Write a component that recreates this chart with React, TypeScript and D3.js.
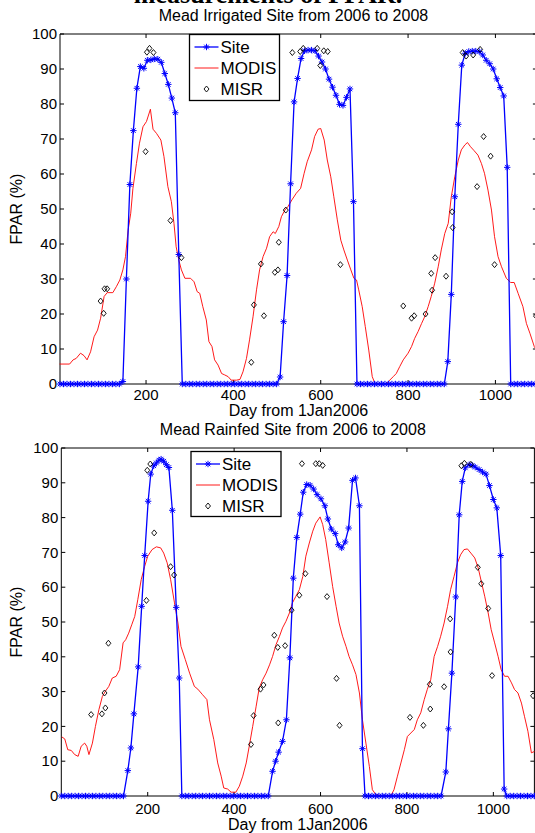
import React from "react";
import * as d3 from "d3";

// ---------- shared axis data ----------
const xTicks = [200, 400, 600, 800, 1000];
const yTicks = [0, 10, 20, 30, 40, 50, 60, 70, 80, 90, 100];
const legendLabels = ["Site", "MODIS", "MISR"];
const xLabel = "Day from 1Jan2006";
const yLabel = "FPAR (%)";
const captionText = "measurements of FPAR.";

// ---------- Irrigated site ----------
const irrTitle = "Mead Irrigated Site from 2006 to 2008";
const irrSiteDays = d3.range(3, 1092, 8);
const irrSiteVals = [
  0, 0, 0, 0, 0, 0, 0, 0, 0, 0, 0, 0, 0, 0, 0, 0, 0, 0,
  0.7, 30, 57, 72.4, 84.5, 90.7, 90.2, 92.5, 92.6, 92.9, 92.8, 91.9, 88.7, 85.6, 81.7, 77.5,
  37,
  0, 0, 0, 0, 0, 0, 0, 0, 0, 0, 0, 0, 0, 0, 0, 0, 0, 0, 0, 0, 0, 0, 0, 0, 0, 0, 0, 0,
  2, 17.8, 31, 57.2, 80.6, 87.3, 93, 95.2, 95.4, 95.4, 95.2, 93.7, 92, 90, 87.1, 84.8, 82.5, 79.9, 79.6, 81.9, 84.3, 52.1,
  0, 0, 0, 0, 0, 0, 0, 0, 0, 0, 0, 0, 0, 0, 0, 0, 0, 0, 0, 0, 0, 0, 0, 0, 0, 0,
  6.4, 25.6, 53.5, 74.2, 91.1, 94.5, 95, 95.1, 95.1, 95, 94, 92.5, 91.5, 90, 87.2, 84.7, 82.3, 61.9,
  0, 0, 0, 0, 0, 0, 0, 0,
];
const irrModisDays = [
  2, 25, 33, 40, 50, 58, 65, 73, 81, 89, 96, 104, 111, 124, 132, 140, 147, 153, 159, 165, 170, 178, 185, 193, 201, 210,
  216, 224, 234, 241, 250, 258, 264, 269, 275, 281, 289, 302, 310, 317, 323, 330, 338, 344, 351, 357, 365, 373, 380,
  388, 395, 407, 415, 422, 430, 437, 445, 453, 460, 468, 476, 483, 491, 496, 504, 510, 518, 525, 534, 544, 554, 562,
  569, 579, 586, 594, 600, 608, 615, 623, 630, 638, 646, 653, 661, 669, 676, 682, 687, 695, 702, 710, 718, 724, 739,
  750, 758, 766, 773, 781, 789, 800, 808, 815, 823, 831, 838, 846, 853, 861, 869, 876, 884, 892, 899, 907, 915, 922,
  930, 936, 943, 951, 960, 968, 975, 983, 991, 998, 1006, 1014, 1025, 1035, 1043, 1052, 1063, 1071, 1079, 1089, 1095,
];
const irrModisVals = [
  5.7, 5.7, 6.9, 7.3, 8.8, 8.1, 6.9, 9.2, 13.5, 15.4, 18.8, 25, 26.1, 26.1, 27.8, 29.7, 32.6, 36.4, 44, 48.8, 55.9, 63,
  68.8, 73.5, 75, 78.5, 72.8, 71.6, 69.7, 65, 56.4, 52.1, 45.9, 39.2, 35.4, 32.6, 30.2, 30.2, 29.2, 26.4, 25.9, 22.1,
  18.3, 12.1, 10.7, 6.9, 5.4, 3, 2.6, 2.1, 1.1, 1.1, 1.3, 3.5, 7.3, 12.6, 19.2, 26.9, 32.6, 36.4, 38.8, 42.1, 43.5, 43,
  45, 47.8, 49.7, 50.7, 52.6, 54.5, 55.9, 60.2, 63.5, 66.9, 70.7, 72.8, 73, 69.7, 64, 59.2, 53.5, 46.9, 41.1, 38.3,
  35.4, 32.6, 30.2, 29.7, 26.9, 22.1, 16.4, 9.7, 2.1, 0.2, 0, 0, 1.1, 2.1, 3, 5, 6.9, 8.8, 10.7, 13, 15, 17.3, 19.2,
  22.1, 25, 28.8, 33.5, 38.3, 43, 45.9, 53.5, 59.2, 64, 66.9, 68.3, 69, 67.8, 66.7, 65.4, 63, 60.2, 55.4, 49.7, 42.1,
  36.4, 33.5, 30.2, 29, 29, 25.9, 22.1, 17.3, 14.5, 10.7, 9.5,
];
const irrMisrDays = [
  96, 103, 105, 111, 199, 202, 208, 217, 256, 281, 441, 447, 463, 470, 495, 502, 504, 520, 535, 553, 560, 592, 599,
  607, 616, 645, 789, 808, 814, 840, 853, 855, 862, 887, 901, 902, 925, 933, 949, 958, 965, 973, 989, 998, 1093,
];
const irrMisrVals = [
  23.7, 20.2, 27.2, 27.2, 66.4, 94.8, 95.9, 94.7, 46.7, 36.1, 6.2, 22.6, 34.3, 19.5, 31.9, 32.6, 40.5, 49.7, 94.7, 95,
  95.9, 95.9, 91, 95.2, 95, 34.1, 22.3, 18.8, 19.5, 20, 31.6, 26.8, 36.1, 30.8, 49.2, 44.7, 94.7, 93.7, 94, 56.4, 95.6,
  70.7, 65.1, 34.1, 19.4,
];

// ---------- Rainfed site ----------
const rainTitle = "Mead Rainfed Site from 2006 to 2008";
const rainSiteDays = [
  0, 8, 16, 24, 32, 40, 48, 56, 64, 72, 80, 88, 96, 104, 112, 120, 128, 136, 144,
  154, 161, 168, 178, 186, 193, 201, 207, 214, 220, 226, 231, 237, 243, 249, 257, 266, 273, 279,
  287, 295, 303, 311, 319, 327, 335, 343, 351, 359, 367, 375, 383, 391, 399, 407, 415, 423, 431, 439, 447, 455, 463, 471, 479,
  489, 496, 503, 512, 521, 529, 537, 545, 553, 560, 568, 576, 584, 592, 601, 610, 617, 625, 634, 641, 649, 657, 665, 674, 681, 690, 697, 703,
  711, 719, 727, 735, 743, 751, 759, 767, 775, 783, 791, 799, 807, 815, 823, 831, 839, 847, 855, 863, 871, 879,
  890, 896, 904, 913, 921, 928, 935, 944, 951, 958, 967, 975, 983, 991, 1000, 1008, 1017, 1025, 1031,
  1039, 1047, 1055, 1063, 1071, 1079, 1087, 1095,
];
const rainSiteVals = [
  0, 0, 0, 0, 0, 0, 0, 0, 0, 0, 0, 0, 0, 0, 0, 0, 0, 0, 0,
  7.3, 13.8, 23.6, 37.1, 54.5, 69.1, 84.7, 92.5, 94.9, 95.7, 96.5, 96.8, 96.2, 95.2, 94.4, 82.1, 54.2, 33.9, 0,
  0, 0, 0, 0, 0, 0, 0, 0, 0, 0, 0, 0, 0, 0, 0, 0, 0, 0, 0, 0, 0, 0, 0, 0, 0,
  7.1, 10, 12.6, 15.7, 21.9, 39.7, 62.6, 74.3, 81, 87.3, 89.5, 89.3, 88.2, 86.6, 85.4, 83.4, 79.6, 76.7, 75.4, 72.2, 71.3, 73, 77, 90.7, 91.4, 83.4, 13.6, 0,
  0, 0, 0, 0, 0, 0, 0, 0, 0, 0, 0, 0, 0, 0, 0, 0, 0, 0, 0, 0, 0, 0,
  6.9, 19.3, 35.3, 57.2, 80.8, 90.4, 94.3, 95.2, 95, 94.5, 93.8, 93.1, 92.5, 89.2, 85.2, 82.8, 69.1, 2, 0,
  0, 0, 0, 0, 0, 0, 0, 0,
];
const rainModisDays = [
  1, 8, 15, 23, 31, 39, 46, 54, 59, 64, 72, 79, 87, 95, 102, 110, 118, 127, 135, 143, 149, 156, 163, 170, 177, 185,
  193, 200, 210, 220, 230, 237, 245, 253, 262, 270, 277, 287, 297, 308, 316, 327, 337, 343, 353, 362, 370, 376, 385,
  393, 404, 412, 420, 428, 435, 443, 451, 458, 466, 474, 482, 489, 497, 505, 512, 520, 528, 535, 543, 551, 559, 566,
  574, 582, 589, 599, 605, 612, 620, 628, 636, 643, 651, 659, 666, 674, 682, 690, 697, 705, 713, 720, 728, 740, 763,
  770, 778, 786, 794, 801, 809, 817, 824, 832, 840, 847, 855, 863, 871, 878, 886, 894, 901, 909, 917, 924, 932, 940,
  948, 957, 965, 972, 980, 988, 995, 1003, 1011, 1018, 1026, 1034, 1042, 1049, 1057, 1065, 1072, 1080, 1088, 1095,
];
const rainModisVals = [
  17, 16.4, 13.3, 13.1, 11.9, 11.4, 14.3, 15.2, 14.3, 11.9, 15.2, 20, 24.8, 28.6, 30.1, 31.5, 33.9, 34.4, 36.3, 44,
  44.9, 46.8, 49.2, 51.6, 56.4, 62.2, 66, 68.9, 70.8, 71.6, 71.3, 69.8, 67, 62.2, 55.5, 49.7, 43, 39.2, 35.3, 31.5,
  30.7, 29.1, 27.7, 21.9, 16.2, 9.5, 5.7, 2.3, 2, 1.1, 1.1, 2.8, 5.7, 9.5, 14.3, 20, 25.8, 31, 33.4, 35.3, 37.7, 40.1,
  43.5, 45.9, 48.3, 50.2, 52.6, 55.5, 57.4, 59.3, 63.1, 68.9, 72.7, 76.1, 78.4, 80.2, 78, 73.7, 67, 60.2, 54.5, 49.7,
  45.9, 43, 40.1, 37.7, 34.9, 29.6, 21.9, 15.2, 8.5, 1.8, 0.4, 0.1, 0.1, 1.8, 5.7, 9.5, 13.3, 17.1, 18.1, 19.1, 21.9,
  23.9, 27.7, 30.6, 33.4, 40.1, 43, 45.9, 49.7, 54.5, 59.3, 63.1, 67, 69.3, 70.8, 71, 69.8, 68.4, 65.5, 61.7, 57.4,
  52.6, 47.8, 44, 40.1, 36.3, 34.4, 34.4, 32.5, 30.6, 29.6, 26.7, 22.9, 18.6, 12.4, 12.8,
];
const rainMisrDays = [
  69, 94, 100, 102, 109, 197, 199, 206, 215, 253, 261, 439, 445, 461, 468, 493, 501, 502, 518, 533, 551, 557, 565,
  589, 597, 605, 615, 637, 644, 807, 838, 853, 854, 886, 900, 901, 926, 933, 948, 964, 972, 988, 997, 1092,
];
const rainMisrVals = [
  23.4, 23.6, 29.6, 25.3, 43.9, 56.2, 93.6, 95.4, 75.6, 65.9, 63.5, 14.8, 23.1, 30.7, 31.9, 46.2, 42.7, 21, 43.2, 53.4,
  57.7, 95.5, 63.9, 95.5, 95.5, 95, 57.3, 33.8, 20.3, 22.6, 20.3, 32.1, 25, 31.4, 50.9, 41.4, 94.9, 95.6, 95.3, 65.7,
  61, 53.9, 34.6, 28.8,
];

const FONT = "'Liberation Sans', Arial, Helvetica, sans-serif";
const STAR = "M-3.2,0H3.2M0,-3.2V3.2M-2.3,-2.3L2.3,2.3M-2.3,2.3L2.3,-2.3";
const DIAMOND = "M0,-3L2.5,0L0,3L-2.5,0Z";

type PanelProps = {
  title: string;
  siteDays: number[];
  siteVals: number[];
  modisDays: number[];
  modisVals: number[];
  misrDays: number[];
  misrVals: number[];
  xr: [number, number];
  xd: [number, number];
  yTop: number;
  yBot: number;
  titleY: number;
  tickLabelY: number;
  xLabelY: number;
  legend: { x: number; y: number; w: number; h: number };
};

function Panel(p: PanelProps) {
  const x = d3.scaleLinear().domain(p.xd).range(p.xr);
  const y = d3.scaleLinear().domain([0, 100]).range([p.yBot, p.yTop]);
  const left = p.xr[0];
  const right = p.xr[1];
  const line = d3
    .line<[number, number]>()
    .x((d) => x(d[0]))
    .y((d) => y(d[1]));
  const site: [number, number][] = p.siteDays.map((d, i) => [d, p.siteVals[i]]);
  const modis: [number, number][] = p.modisDays.map((d, i) => [d, p.modisVals[i]]);
  const misr: [number, number][] = p.misrDays.map((d, i) => [d, p.misrVals[i]]);
  const tl = 4;
  const L = p.legend;
  const rowH = 21;
  return (
    <g>
      <text x={(left + right) / 2 - 5} y={p.titleY} textAnchor="middle" fontSize={16} fontFamily={FONT} fill="#000">
        {p.title}
      </text>
      {/* frame */}
      <g stroke="#000" strokeWidth={1} fill="none">
        <line x1={left} x2={right} y1={p.yTop} y2={p.yTop} />
        <line x1={left} x2={right} y1={p.yBot} y2={p.yBot} />
        <line x1={left} x2={left} y1={p.yTop} y2={p.yBot} />
        <line x1={right} x2={right} y1={p.yTop} y2={p.yBot} />
        {xTicks.map((t) => (
          <g key={"xt" + t}>
            <line x1={x(t)} x2={x(t)} y1={p.yBot} y2={p.yBot - tl} />
            <line x1={x(t)} x2={x(t)} y1={p.yTop} y2={p.yTop + tl} />
          </g>
        ))}
        {yTicks.map((t) => (
          <g key={"yt" + t}>
            <line x1={left} x2={left + tl} y1={y(t)} y2={y(t)} />
            <line x1={right} x2={right - tl} y1={y(t)} y2={y(t)} />
          </g>
        ))}
      </g>
      {xTicks.map((t) => (
        <text key={"xl" + t} x={x(t)} y={p.tickLabelY} textAnchor="middle" fontSize={15} fontFamily={FONT} fill="#000">
          {t}
        </text>
      ))}
      {yTicks.map((t) => (
        <text key={"yl" + t} x={left - 3} y={y(t)} dy="0.35em" textAnchor="end" fontSize={15} fontFamily={FONT} fill="#000">
          {t}
        </text>
      ))}
      <text x={(left + right) / 2} y={p.xLabelY} textAnchor="middle" fontSize={16} fontFamily={FONT} fill="#000">
        {xLabel}
      </text>
      <text
        transform={`translate(22,${(p.yTop + p.yBot) / 2}) rotate(-90)`}
        textAnchor="middle"
        fontSize={16}
        fontFamily={FONT}
        fill="#000"
      >
        {yLabel}
      </text>
      {/* data */}
      <path d={line(modis) || ""} fill="none" stroke="#ff0000" strokeWidth={0.9} />
      <path d={line(site) || ""} fill="none" stroke="#0000ff" strokeWidth={1.3} />
      {site.map((d, i) => (
        <path key={"s" + i} d={STAR} transform={`translate(${x(d[0])},${y(d[1])})`} stroke="#0000ff" strokeWidth={1} fill="none" />
      ))}
      {misr.map((d, i) => (
        <path key={"m" + i} d={DIAMOND} transform={`translate(${x(d[0])},${y(d[1])})`} stroke="#000" strokeWidth={0.9} fill="none" />
      ))}
      {/* legend */}
      <rect x={L.x} y={L.y} width={L.w} height={L.h} fill="#fff" stroke="#000" strokeWidth={1.3} />
      {legendLabels.map((lab, i) => {
        const cy = L.y + 12.5 + i * rowH;
        const lx1 = L.x + 5;
        const lx2 = L.x + 29;
        return (
          <g key={lab}>
            {i === 0 && (
              <g>
                <line x1={lx1} x2={lx2} y1={cy} y2={cy} stroke="#0000ff" strokeWidth={1.3} />
                <path d={STAR} transform={`translate(${(lx1 + lx2) / 2},${cy})`} stroke="#0000ff" strokeWidth={1} />
              </g>
            )}
            {i === 1 && <line x1={lx1} x2={lx2} y1={cy} y2={cy} stroke="#ff0000" strokeWidth={0.9} />}
            {i === 2 && (
              <path d={DIAMOND} transform={`translate(${(lx1 + lx2) / 2},${cy})`} stroke="#000" strokeWidth={0.9} fill="none" />
            )}
            <text x={L.x + 31} y={cy} dy="0.36em" fontSize={17} fontFamily={FONT} fill="#000">
              {lab}
            </text>
          </g>
        );
      })}
    </g>
  );
}

export default function App() {
  return (
    <svg
      width={535}
      height={833}
      style={{ position: "absolute", left: 0, top: 0, background: "#fff" }}
      xmlns="http://www.w3.org/2000/svg"
    >
      <rect x={0} y={0} width={535} height={833} fill="#fff" />
      <text x={268} y={3} textAnchor="middle" fontSize={26} fontWeight="bold" fontFamily="'Liberation Serif', 'Times New Roman', serif" fill="#000">
        {captionText}
      </text>
      <Panel
        title={irrTitle}
        siteDays={irrSiteDays}
        siteVals={irrSiteVals}
        modisDays={irrModisDays}
        modisVals={irrModisVals}
        misrDays={irrMisrDays}
        misrVals={irrMisrVals}
        xr={[60, 536.9]}
        xd={[3, 1095]}
        yTop={34}
        yBot={384}
        titleY={20.5}
        tickLabelY={400}
        xLabelY={416}
        legend={{ x: 189.5, y: 34.5, w: 90, h: 66 }}
      />
      <Panel
        title={rainTitle}
        siteDays={rainSiteDays}
        siteVals={rainSiteVals}
        modisDays={rainModisDays}
        modisVals={rainModisVals}
        misrDays={rainMisrDays}
        misrVals={rainMisrVals}
        xr={[61.3, 534.4]}
        xd={[0, 1095]}
        yTop={448}
        yBot={796}
        titleY={435}
        tickLabelY={814}
        xLabelY={829.5}
        legend={{ x: 191, y: 451.5, w: 90, h: 65 }}
      />
    </svg>
  );
}
